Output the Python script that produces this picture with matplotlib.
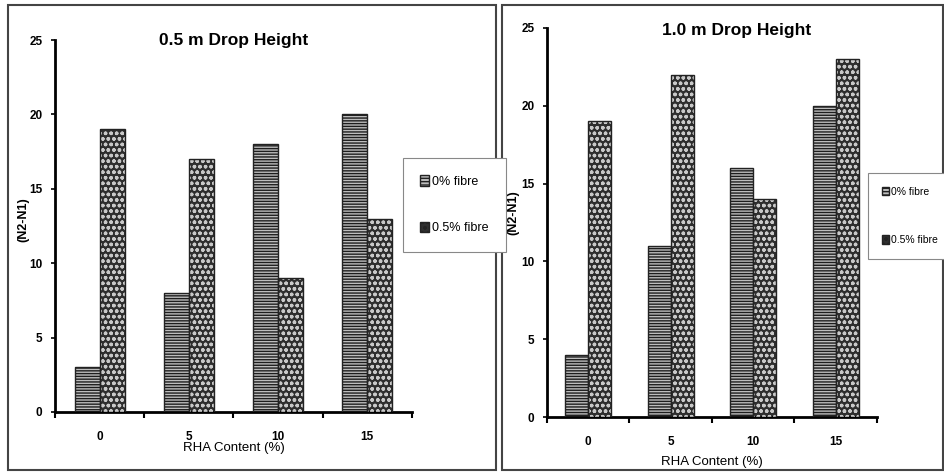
import matplotlib
matplotlib.use("Agg")
import matplotlib.pyplot as plt
from matplotlib.patches import Rectangle, Patch
import numpy as np

plt.rcParams['font.family'] = ['Liberation Sans', 'DejaVu Sans']
plt.rcParams['hatch.linewidth'] = 1.0

categories = ["0", "5", "10", "15"]
series_names = ["0% fibre", "0.5% fibre"]
left_title = "0.5 m Drop Height"
right_title = "1.0 m Drop Height"
left_0 = [3, 8, 18, 20]
left_05 = [19, 17, 9, 13]
right_0 = [4, 11, 16, 20]
right_05 = [19, 22, 14, 23]
yticks = [0, 5, 10, 15, 20, 25]
xlabel = "RHA Content (%)"
ylabel = "(N2-N1)"

W, H = 945, 474
fig = plt.figure(figsize=(W / 100, H / 100), dpi=100)

def fx(px):
    return px / W

def fy(py):
    return 1 - py / H

# panel borders
for (x0, y0, x1, y1) in [(8, 5, 496, 470), (502, 5, 943, 470)]:
    fig.add_artist(Rectangle((fx(x0), fy(y1)), fx(x1 - x0), (y1 - y0) / H,
                             transform=fig.transFigure, fill=False,
                             edgecolor='#444444', linewidth=1.5))

BW = 0.28
H_FACE = '#bdbdbd'
D_FACE = '#2e2e2e'

def draw_bars(ax, vals, offset, kind):
    x = np.arange(len(vals)) + offset
    if kind == 'h':
        ax.bar(x, vals, BW, color=H_FACE, edgecolor='none', zorder=2)
        ax.bar(x, vals, BW, color='none', edgecolor='#1e1e1e', hatch='------', linewidth=0, zorder=3)
    else:
        ax.bar(x, vals, BW, color=D_FACE, edgecolor='none', zorder=2)
        ax.bar(x, vals, BW, color='none', edgecolor='#c8c8c8', hatch='ooo', linewidth=0, zorder=3)
    ax.bar(x, vals, BW, color='none', edgecolor='#222222', linewidth=1.0, zorder=4)

def make_panel(rect, v0, v1, title, title_xy, ylab_x, ylab_y, xlab_y, leg_xy,
               leg_fs, leg_sp, leg_pad):
    ax = fig.add_axes(rect)
    draw_bars(ax, v0, -BW / 2, 'h')
    draw_bars(ax, v1, BW / 2, 'd')
    ax.set_xlim(-0.5, len(categories) - 0.5)
    ax.set_ylim(0, 25)
    for s in ['top', 'right']:
        ax.spines[s].set_visible(False)
    for s in ['left', 'bottom']:
        ax.spines[s].set_linewidth(2.0)
    ax.set_yticks(yticks)
    ax.set_yticklabels([str(t) for t in yticks], fontsize=8.5, fontweight='bold')
    ax.set_xticks(np.arange(len(categories)))
    ax.set_xticklabels(categories, fontsize=8.5, fontweight='bold')
    ax.tick_params(axis='x', length=0, pad=14)
    ax.set_xticks(np.arange(len(categories) + 1) - 0.5, minor=True)
    ax.tick_params(axis='x', which='minor', length=4, width=1.5, direction='out')
    ax.tick_params(axis='y', length=3, width=1.2, direction='out', pad=6)
    fig.text(fx(title_xy[0]), fy(title_xy[1]), title, ha='center', va='center',
             fontsize=12.5, fontweight='bold')
    fig.text(fx(ylab_x), fy(ylab_y), ylabel, rotation=90,
             ha='center', va='center', fontsize=9, fontweight='bold')
    fig.text(rect[0] + rect[2] / 2, fy(xlab_y), xlabel, ha='center', va='center',
             fontsize=9.5)
    handles = [Patch(facecolor=H_FACE, edgecolor='#222222', hatch='-----'),
               Patch(facecolor=D_FACE, edgecolor='#222222', hatch='ooo')]
    leg = fig.legend(handles, series_names, loc='upper left',
                     bbox_to_anchor=(fx(leg_xy[0]), fy(leg_xy[1])),
                     bbox_transform=fig.transFigure, fontsize=leg_fs,
                     handlelength=0.7, handleheight=0.9, handletextpad=0.2,
                     labelspacing=leg_sp, borderpad=leg_pad, borderaxespad=0,
                     fancybox=False, framealpha=1, edgecolor='#888888')
    leg.get_frame().set_linewidth(0.8)
    return ax

make_panel([fx(55), fy(412), fx(412 - 55), (412 - 40) / H],
           left_0, left_05, left_title, (234, 40), 23, 220, 448, (403, 158),
           9, 2.7, 1.4)
make_panel([fx(547), fy(417), fx(877 - 547), (417 - 28) / H],
           right_0, right_05, right_title, (737, 30), 513, 213, 462, (868, 173),
           7.5, 3.7, 1.3)

fig.savefig("out.png", dpi=100)
